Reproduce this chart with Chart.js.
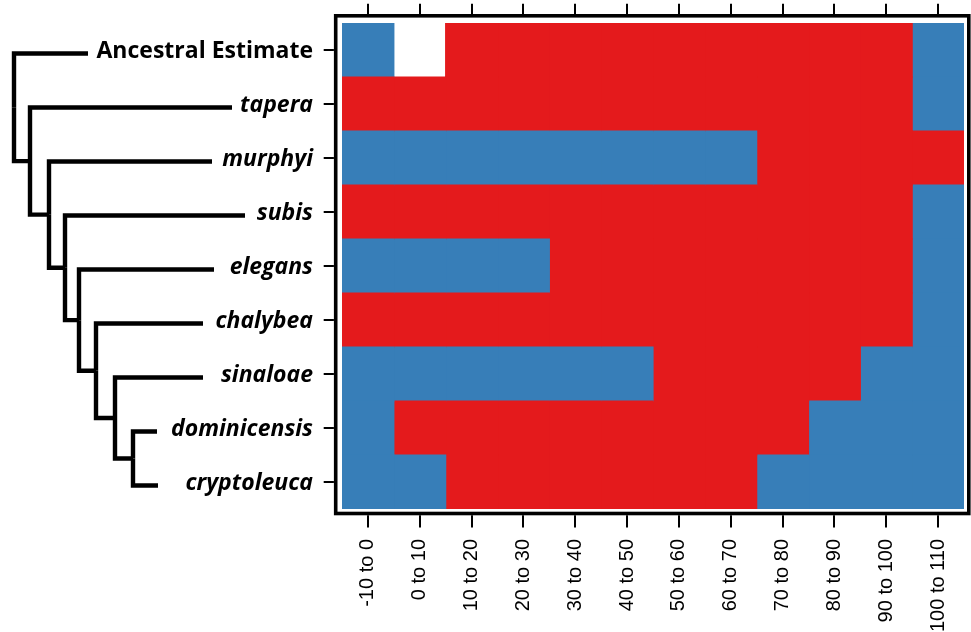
<!DOCTYPE html>
<html>
<head>
<meta charset="utf-8">
<script src="https://cdn.jsdelivr.net/npm/chart.js@4.4.1/dist/chart.umd.min.js"></script>
<style>
  html, body { margin: 0; padding: 0; background: #fff; }
  #wrap { width: 971px; height: 632px; }
</style>
</head>
<body>
<div id="wrap"><canvas id="stateChart" width="971" height="632"></canvas></div>
<script>
// rows (top to bottom) and time bins
const rowLabels = ['Ancestral Estimate', 'tapera', 'murphyi', 'subis', 'elegans',
                   'chalybea', 'sinaloae', 'dominicensis', 'cryptoleuca'];
const binLabels = ['-10 to 0', '0 to 10', '10 to 20', '20 to 30', '30 to 40', '40 to 50',
                   '50 to 60', '60 to 70', '70 to 80', '80 to 90', '90 to 100', '100 to 110'];
const binStarts = [-10, 0, 10, 20, 30, 40, 50, 60, 70, 80, 90, 100];
const binEnds   = [0, 10, 20, 30, 40, 50, 60, 70, 80, 90, 100, 110];

// state per bin: 1 = red state, 0 = blue state, null = no estimate
const ancestral    = [0, null, 1, 1, 1, 1, 1, 1, 1, 1, 1, 0];
const tapera       = [1, 1, 1, 1, 1, 1, 1, 1, 1, 1, 1, 0];
const murphyi      = [0, 0, 0, 0, 0, 0, 0, 0, 1, 1, 1, 1];
const subis        = [1, 1, 1, 1, 1, 1, 1, 1, 1, 1, 1, 0];
const elegans      = [0, 0, 0, 0, 1, 1, 1, 1, 1, 1, 1, 0];
const chalybea     = [1, 1, 1, 1, 1, 1, 1, 1, 1, 1, 1, 0];
const sinaloae     = [0, 0, 0, 0, 0, 0, 1, 1, 1, 1, 0, 0];
const dominicensis = [0, 1, 1, 1, 1, 1, 1, 1, 1, 0, 0, 0];
const cryptoleuca  = [0, 0, 1, 1, 1, 1, 1, 1, 0, 0, 0, 0];
const rowStates = [ancestral, tapera, murphyi, subis, elegans, chalybea, sinaloae, dominicensis, cryptoleuca];

// tree: tip depth per row, and depth of the node joining row i with the rest (units of 10px)
const tipDepth  = [7.4, 21.8, 19.8, 23.1, 20.0, 18.9, 18.9, 14.3, 14.4];
const nodeDepth = [0, 1.6, 3.5, 5.1, 6.5, 8.2, 10.1, 11.9];

const RED = '#E41A1C';
const BLUE = '#377EB8';

const datasets = binLabels.map(function (lab, k) {
    return {
        label: lab,
        data: rowStates.map(s => s[k] === null ? null : [binStarts[k], binEnds[k]]),
        backgroundColor: rowStates.map(s => s[k] === 1 ? RED : BLUE),
        borderWidth: 0,
        inflateAmount: 0.6,
        grouped: false,
        barPercentage: 1,
        categoryPercentage: 1
    };
});

// frame, tick marks, tree and row labels
const decorPlugin = {
    id: 'decor',
    afterDraw(chart) {
        const ctx = chart.ctx;
        const area = chart.chartArea;
        const xs = chart.scales.x;
        const ys = chart.scales.y;
        ctx.save();

        // frame
        ctx.strokeStyle = '#000';
        ctx.lineWidth = 3.6;
        const fl = area.left - 6.3, ft = area.top - 7.2, fr = area.right + 4.8, fb = area.bottom + 4.5;
        ctx.strokeRect(fl, ft, fr - fl, fb - ft);

        // ticks
        ctx.lineWidth = 2;
        ctx.beginPath();
        binStarts.forEach(function (s, k) {
            const px = Math.round(xs.getPixelForValue((binStarts[k] + binEnds[k]) / 2));
            ctx.moveTo(px, ft - 1.8); ctx.lineTo(px, ft - 12);
            ctx.moveTo(px, fb + 1.8); ctx.lineTo(px, fb + 14);
        });
        rowLabels.forEach(function (r, i) {
            const py = Math.round(ys.getPixelForValue(i));
            ctx.moveTo(fl - 1.8, py); ctx.lineTo(fl - 12, py);
        });
        ctx.stroke();

        // row labels
        ctx.fillStyle = '#000';
        ctx.textAlign = 'right';
        ctx.textBaseline = 'middle';
        rowLabels.forEach(function (r, i) {
            ctx.font = (i === 0 ? '' : 'italic ') + 'bold 23px "Open Sans"';
            ctx.fillText(r, 313, ys.getPixelForValue(i) + 1);
        });

        // tree
        const tx = d => 14 + d * 10;
        const leafY = rowLabels.map((r, i) => ys.getPixelForValue(i) + 3.5);
        const nodeY = [];
        const last = nodeDepth.length - 1;
        nodeY[last] = (leafY[last] + leafY[last + 1]) / 2;
        for (let i = last - 1; i >= 0; i--) nodeY[i] = (leafY[i] + nodeY[i + 1]) / 2;

        ctx.lineWidth = 4.4;
        ctx.lineJoin = 'miter';
        ctx.lineCap = 'butt';
        function branch(x0, y0, x1, y1) {
            ctx.beginPath();
            ctx.moveTo(x0, y0);
            ctx.lineTo(x0, y1);
            ctx.lineTo(x1, y1);
            ctx.stroke();
        }
        nodeDepth.forEach(function (d, i) {
            const x0 = tx(d), y0 = nodeY[i];
            branch(x0, y0, tx(tipDepth[i]), leafY[i]);
            if (i < last) branch(x0, y0, tx(nodeDepth[i + 1]), nodeY[i + 1]);
            else branch(x0, y0, tx(tipDepth[i + 1]), leafY[i + 1]);
        });
        ctx.restore();
    }
};

new Chart(document.getElementById('stateChart').getContext('2d'), {
    type: 'bar',
    data: { labels: rowLabels, datasets: datasets },
    options: {
        indexAxis: 'y',
        responsive: false,
        animation: false,
        layout: { autoPadding: false, padding: { left: 342, right: 7, top: 23, bottom: 0 } },
        plugins: { legend: { display: false }, tooltip: { enabled: false } },
        scales: {
            y: { display: false },
            x: {
                type: 'linear',
                min: -10,
                max: 110,
                border: { display: false },
                grid: { display: false },
                afterBuildTicks: function (scale) {
                    scale.ticks = binStarts.map((s, k) => ({ value: (s + binEnds[k]) / 2 }));
                },
                afterFit: function (scale) {
                    scale.height = 123;
                    scale.paddingLeft = 0;
                    scale.paddingRight = 0;
                },
                ticks: {
                    autoSkip: false,
                    minRotation: 90,
                    maxRotation: 90,
                    padding: 22,
                    color: '#000',
                    font: { family: '"Liberation Sans", Arial, sans-serif', size: 20 },
                    callback: (value, index) => binLabels[index]
                }
            }
        }
    },
    plugins: [decorPlugin]
});
</script>
</body>
</html>
